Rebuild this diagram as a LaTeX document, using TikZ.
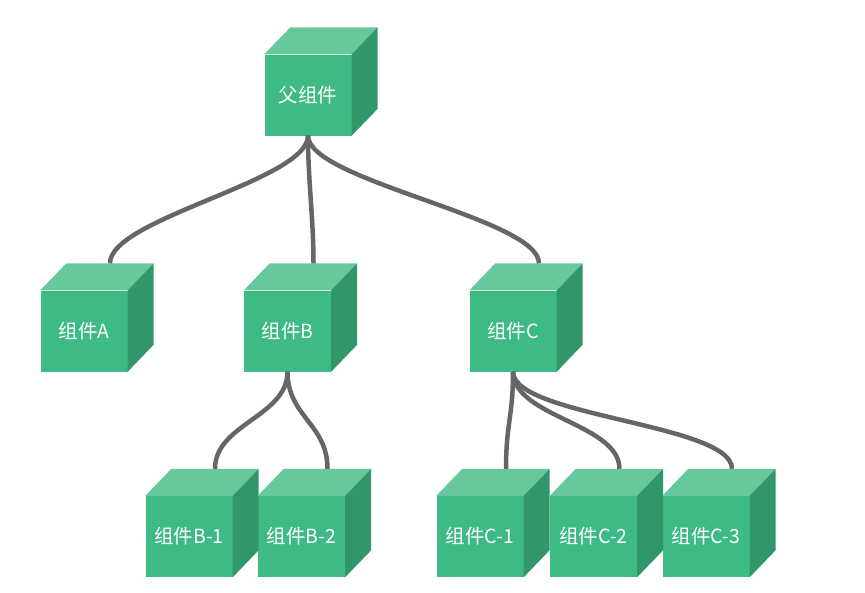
\documentclass[tikz,border=0pt]{standalone}
\usepackage{fontspec}
\newfontfamily\cjkfont{Noto Sans CJK SC}
\usetikzlibrary{calc}

\definecolor{cubefront}{HTML}{3EBA84}
\definecolor{cubetop}{HTML}{66C89B}
\definecolor{cubeside}{HTML}{31976A}
\definecolor{linkgray}{HTML}{666666}

\begin{document}
\begin{tikzpicture}[
    x=1pt, y=-1pt, % pixel coordinates, y downwards
    cube/.style={fill=cubefront, minimum width=87pt, minimum height=81pt,
        inner sep=0pt, text=white, font=\cjkfont\fontsize{19.5}{22}\selectfont},
    link/.style={draw=linkgray, line width=4.5pt}
]
\useasboundingbox (0,0) rectangle (865,592);

% Front faces
\node[cube] (p)  at (308,95)    {父组件};
\node[cube] (a)  at (84,331)    {组件A};
\node[cube] (b)  at (287.5,331) {组件B};
\node[cube] (c)  at (513,331)   {组件C};
\node[cube] (b1) at (189,536.5) {组件B-1};
\node[cube] (b2) at (301.5,536.5) {组件B-2};
\node[cube] (c1) at (480,536.5) {组件C-1};
\node[cube] (c2) at (593.5,536.5) {组件C-2};
\node[cube] (c3) at (706,536.5) {组件C-3};

% Top and side faces
\foreach \n in {p,a,b,c,b1,b2,c1,c2,c3} {
    \fill[cubetop] (\n.north west) -- ($(\n.north west)+(26,-27)$)
        -- ($(\n.north east)+(26,-27)$) -- (\n.north east) -- cycle;
    \fill[cubeside] (\n.north east) -- ($(\n.north east)+(26,-27)$)
        -- ($(\n.south east)+(26,-27)$) -- (\n.south east) -- cycle;
    \coordinate (\n-top) at ($(\n.north)+(26,-27)$); % middle of the back edge
}

% Connectors
\foreach \from/\to in {p/a, p/b, p/c, b/b1, b/b2, c/c1, c/c2, c/c3}
    \draw[link] (\from.south) .. controls +(0,45) and +(0,-45) .. (\to-top);

\end{tikzpicture}
\end{document}
